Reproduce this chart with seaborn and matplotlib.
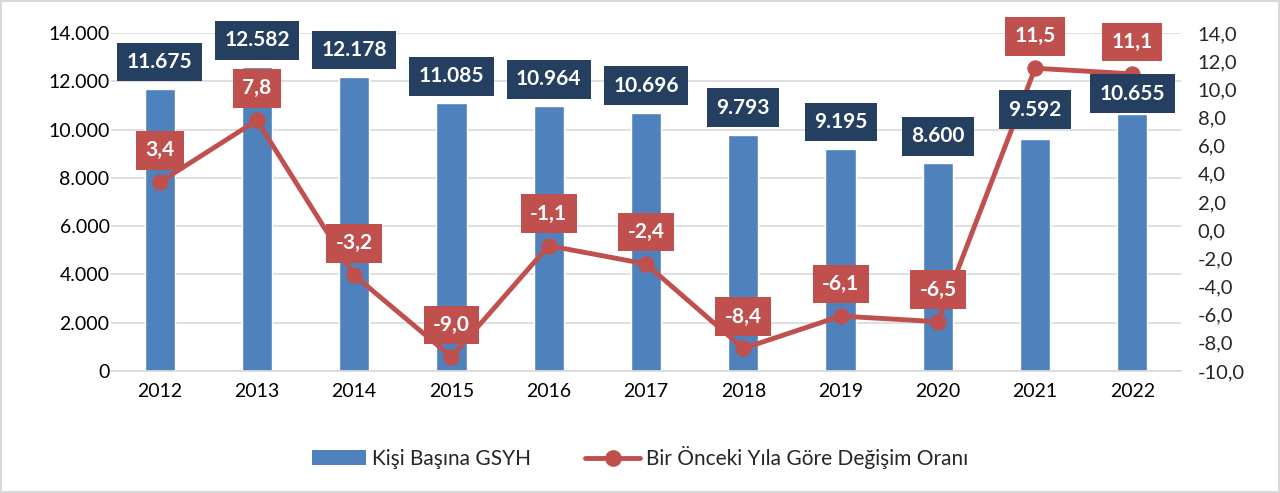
import numpy as np
import pandas as pd
import matplotlib
matplotlib.use("Agg")
import matplotlib.pyplot as plt
import seaborn as sns
from matplotlib.patches import Patch
from matplotlib.lines import Line2D

years = ["2012", "2013", "2014", "2015", "2016", "2017", "2018", "2019", "2020", "2021", "2022"]
gsyh = [11675, 12582, 12178, 11085, 10964, 10696, 9793, 9195, 8600, 9592, 10655]
degisim = [3.4, 7.8, -3.2, -9.0, -1.1, -2.4, -8.4, -6.1, -6.5, 11.5, 11.1]

bar_color = "#4F81BD"
line_color = "#C0504D"
navy = "#243F60"

sns.set_theme(style="white")
plt.rcParams["font.family"] = ["Lato", "DejaVu Sans"]

df = pd.DataFrame({"yil": years, "gsyh": gsyh, "degisim": degisim})
df["pos"] = np.arange(len(years))

fig = plt.figure(figsize=(12.8, 4.93), dpi=100)
fig.patch.set_edgecolor("#D9D9D9")
fig.patch.set_linewidth(1.5)
ax = fig.add_axes([0.0867, 0.2475, 0.836, 0.6855])

sns.barplot(data=df, x="yil", y="gsyh", color=bar_color, width=0.31, ax=ax, saturation=1)
ax.set_ylim(0, 14000)
ax.set_yticks(np.arange(0, 14001, 2000))
ax.set_yticklabels([f"{v:,}".replace(",", ".") for v in range(0, 14001, 2000)])
ax.yaxis.grid(True, color="#D9D9D9", linewidth=1.2)
ax.set_axisbelow(True)
ax.set_xlabel("")
ax.set_ylabel("")
ax.tick_params(axis="both", labelsize=14, length=0, colors="#000000")
ax.tick_params(axis="x", pad=9)
ax.tick_params(axis="y", pad=1)
for s in ax.spines.values():
    s.set_visible(False)
ax.spines["bottom"].set_visible(True)
ax.spines["bottom"].set_color("#D9D9D9")

ax2 = ax.twinx()
sns.lineplot(data=df, x="pos", y="degisim", color=line_color, linewidth=3.5,
             marker="o", markersize=11, markeredgecolor=line_color, ax=ax2)
ax2.set_ylim(-10, 14)
ax2.set_yticks(np.arange(-10, 14.1, 2))
ax2.set_yticklabels([f"{v:.1f}".replace(".", ",") for v in np.arange(-10, 14.1, 2)])
ax2.tick_params(axis="y", labelsize=14.5, length=0, pad=12)
ax2.set_ylabel("")
ax2.set_xlim(-0.5, len(years) - 0.5)
for s in ax2.spines.values():
    s.set_visible(False)

# Excel'de bazi etiketler elle kaydirilmis
bar_offsets = {9: 21.5, 10: 14.5}
for i, v in enumerate(gsyh):
    ax2.annotate(f"{v:,}".replace(",", "."), (i, v), xycoords=ax.transData,
                 xytext=(0, bar_offsets.get(i, 19.5)), textcoords="offset points",
                 ha="center", va="center", fontsize=15, fontweight="bold", color="white",
                 bbox=dict(boxstyle="square,pad=0.45", fc=navy, ec="none"), zorder=5)

for i, v in enumerate(degisim):
    ax2.annotate(f"{v:.1f}".replace(".", ","), (i, v), xytext=(0, 23), textcoords="offset points",
                 ha="center", va="center", fontsize=15, fontweight="bold", color="white",
                 bbox=dict(boxstyle="square,pad=0.45", fc=line_color, ec="none"), zorder=6)

handles = [Patch(facecolor=bar_color, edgecolor="none", label="Kişi Başına GSYH"),
           Line2D([0], [0], color=line_color, linewidth=3.5, marker="o", markersize=11,
                  label="Bir Önceki Yıla Göre Değişim Oranı")]
fig.legend(handles=handles, loc="center", bbox_to_anchor=(0.5, 0.072), ncol=2, frameon=False,
           fontsize=15, handlelength=2.6, columnspacing=2.6, handletextpad=0.3)

fig.savefig("out.png", dpi=100)
